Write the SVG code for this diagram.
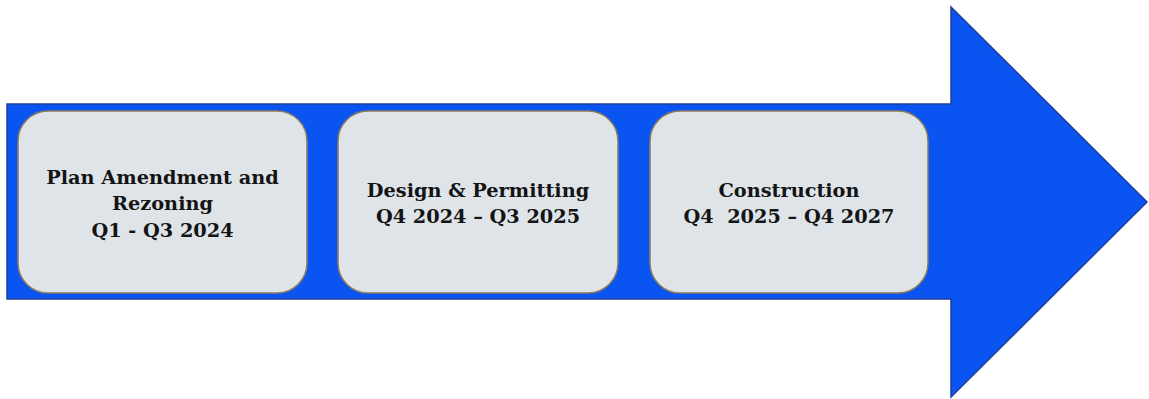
<svg xmlns="http://www.w3.org/2000/svg" width="1149" height="399" viewBox="0 0 1149 399">
<style>
.box{fill:#dfe4e8;stroke:#8c7b5e;stroke-width:1.5}
.t{font-family:"DejaVu Serif","Liberation Serif",serif;font-weight:bold;font-size:19.3px;fill:#141414;text-anchor:middle}
</style>
<rect width="1149" height="399" fill="#ffffff"/>
<g id="arrow">
<polygon points="7,104 951,104 951,7 1147,202 951,397 951,299 7,299" fill="#0a54f2" stroke="#1d3f9e" stroke-width="1.5"/>
</g>
<g id="node1">
<rect class="box" x="18" y="111" width="289" height="182" rx="30"/>
<text class="t" x="162.5" y="184">Plan Amendment and</text>
<text class="t" x="162.5" y="210">Rezoning</text>
<text class="t" x="162.5" y="237">Q1 - Q3 2024</text>
</g>
<g id="node2">
<rect class="box" x="338" y="111" width="280" height="182" rx="30"/>
<text class="t" x="478" y="197">Design &amp; Permitting</text>
<text class="t" x="478" y="223">Q4 2024 – Q3 2025</text>
</g>
<g id="node3">
<rect class="box" x="650" y="111" width="278" height="182" rx="30"/>
<text class="t" x="789" y="197">Construction</text>
<text class="t" x="789" y="223" xml:space="preserve">Q4  2025 – Q4 2027</text>
</g>
<g id="connectors"/>
</svg>
